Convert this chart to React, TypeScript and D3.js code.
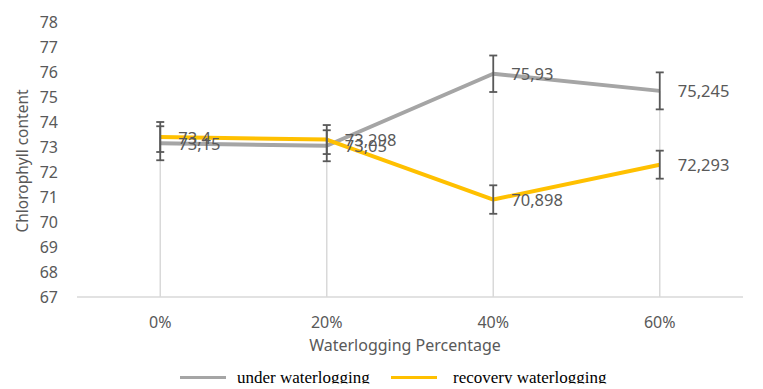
import * as d3 from 'd3'
import React, { useEffect } from 'react'

const categories = ['0%', '20%', '40%', '60%']
const underValues = [73.15, 73.05, 75.93, 75.245]
const underErrors = [0.68, 0.62, 0.73, 0.74]
const recoveryValues = [73.4, 73.298, 70.898, 72.293]
const recoveryErrors = [0.6, 0.58, 0.57, 0.56]
const yTicks = [67, 68, 69, 70, 71, 72, 73, 74, 75, 76, 77, 78]

const series = [
  { name: 'under waterlogging', values: underValues, errors: underErrors, color: '#A5A5A5' },
  { name: 'recovery waterlogging', values: recoveryValues, errors: recoveryErrors, color: '#FFC000' },
]

const width = 763
const height = 389
const font = '"Noto Sans", sans-serif'
const textColor = '#595959'

const fmt = (v: number) => String(v).replace('.', ',')

export default function App() {
  useEffect(() => {
    document.body.style.margin = '0'
  }, [])

  const x = d3.scalePoint<string>().domain(categories).range([77, 743]).padding(0.5)
  const y = d3.scaleLinear().domain([67, 78]).range([297, 22])

  const line = d3
    .line<number>()
    .x((_, i) => x(categories[i]) as number)
    .y(d => y(d))

  return (
    <svg width={width} height={height} style={{ display: 'block', background: '#fff' }}>
      <defs>
        <clipPath id="legendClip">
          <rect x={0} y={0} width={width} height={383.5} />
        </clipPath>
      </defs>

      {/* drop lines from highest point to axis */}
      {categories.map((c, i) => (
        <line
          key={'drop' + c}
          x1={x(c)}
          x2={x(c)}
          y1={y(Math.max(underValues[i], recoveryValues[i]))}
          y2={y(67)}
          stroke="#D9D9D9"
          strokeWidth={1.5}
        />
      ))}

      {/* baseline */}
      <line x1={77} x2={743} y1={y(67)} y2={y(67)} stroke="#D9D9D9" strokeWidth={1.5} />

      {/* y tick labels */}
      {yTicks.map(t => (
        <text
          key={'yt' + t}
          x={58}
          y={y(t)}
          textAnchor="end"
          dominantBaseline="central"
          fontFamily={font}
          fontSize={16}
          fill={textColor}
        >
          {t}
        </text>
      ))}

      {/* x tick labels */}
      {categories.map(c => (
        <text
          key={'xt' + c}
          x={x(c)}
          y={321.5}
          textAnchor="middle"
          dominantBaseline="central"
          fontFamily={font}
          fontSize={16}
          fill={textColor}
        >
          {c}
        </text>
      ))}

      {/* axis titles */}
      <text
        x={405}
        y={344.5}
        textAnchor="middle"
        dominantBaseline="central"
        fontFamily={font}
        fontSize={16}
        fill={textColor}
      >
        Waterlogging Percentage
      </text>
      <text
        transform="translate(22,161) rotate(-90)"
        textAnchor="middle"
        dominantBaseline="central"
        fontFamily={font}
        fontSize={15.5}
        fill={textColor}
      >
        Chlorophyll content
      </text>

      {/* lines */}
      {series.map(s => (
        <path
          key={'line' + s.name}
          d={line(s.values) ?? ''}
          fill="none"
          stroke={s.color}
          strokeWidth={4}
          strokeLinejoin="round"
        />
      ))}

      {/* error bars */}
      {series.map(s =>
        s.values.map((v, i) => {
          const cx = x(categories[i]) as number
          const top = y(v + s.errors[i])
          const bot = y(v - s.errors[i])
          return (
            <g key={'err' + s.name + i} stroke="#595959" strokeWidth={1.8}>
              <line x1={cx} x2={cx} y1={top} y2={bot} />
              <line x1={cx - 4} x2={cx + 4} y1={top} y2={top} />
              <line x1={cx - 4} x2={cx + 4} y1={bot} y2={bot} />
            </g>
          )
        }),
      )}

      {/* data labels */}
      {series.map(s =>
        s.values.map((v, i) => (
          <text
            key={'lbl' + s.name + i}
            x={(x(categories[i]) as number) + 18}
            y={y(v)}
            dominantBaseline="central"
            fontFamily={font}
            fontSize={16.5}
            fill={textColor}
          >
            {fmt(v)}
          </text>
        )),
      )}

      {/* legend */}
      <g clipPath="url(#legendClip)">
        {series.map((s, i) => {
          const lx = i === 0 ? 180 : 391
          return (
            <g key={'leg' + s.name}>
              <line x1={lx} x2={lx + 46} y1={377.5} y2={377.5} stroke={s.color} strokeWidth={3} />
              <text
                x={lx + (i === 0 ? 57 : 62)}
                y={383}
                fontFamily='"Liberation Serif", "Times New Roman", serif'
                fontSize={17}
                fill="#000"
              >
                {s.name}
              </text>
            </g>
          )
        })}
      </g>
    </svg>
  )
}
